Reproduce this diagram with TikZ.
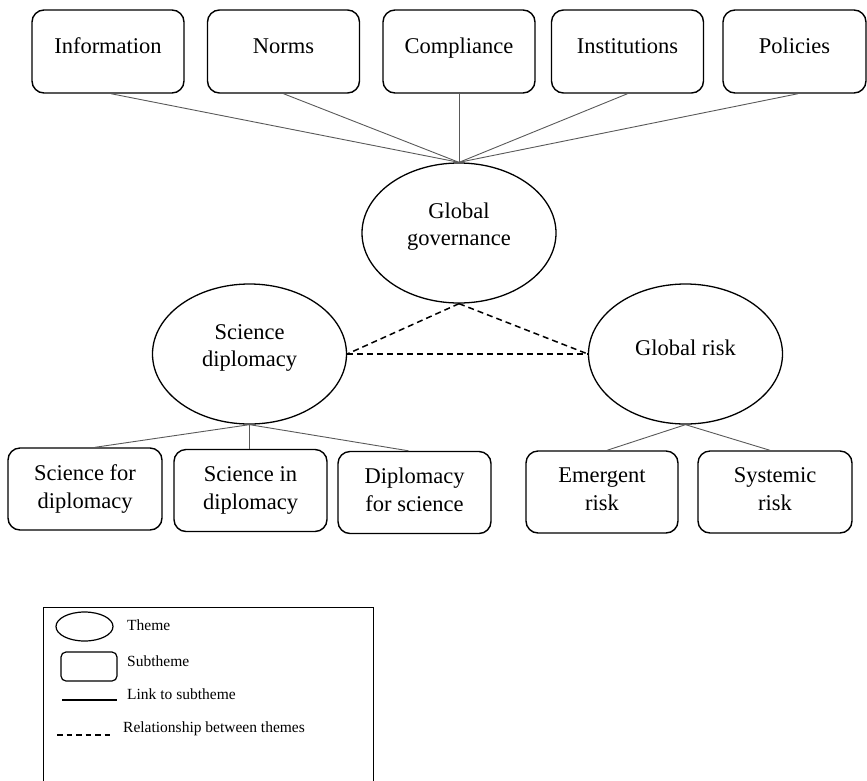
\documentclass[tikz,border=0pt]{standalone}
\usepackage{fontspec}
\setmainfont{Liberation Serif}
\usetikzlibrary{shapes.geometric,calc}
\begin{document}
\begin{tikzpicture}[x=1pt,y=-1pt,
  subbox/.style={draw=black, line width=1.4pt, rounded corners=12pt, align=center, inner sep=0pt, font=\fontsize{22.5}{28}\selectfont},
  topbox/.style={subbox, minimum height=83pt, minimum width=152pt, text height=15pt, text depth=12pt},
  botbox/.style={subbox, minimum height=82pt, minimum width=153pt, text depth=5pt},
  theme/.style={draw=black, ellipse, line width=1.3pt, minimum width=194pt, minimum height=140pt, inner sep=0pt, align=center, font=\fontsize{22.5}{27}\selectfont},
  link/.style={draw=black!65, line width=0.9pt},
  rel/.style={draw=black, line width=1.5pt, dash pattern=on 6pt off 4pt},
  legtext/.style={anchor=west, inner sep=0pt, font=\fontsize{15.5}{18}\selectfont}
]
\useasboundingbox (0,0) rectangle (867,780);
\clip (0,0) rectangle (867,780);

% subthemes (top)
\node[topbox] (info) at (108,51.5) {Information};
\node[topbox] (norms) at (283.5,51.5) {Norms};
\node[topbox] (comp) at (459,51.5) {Compliance};
\node[topbox] (inst) at (627.5,51.5) {Institutions};
\node[topbox, minimum width=143pt] (pol) at (794.5,51.5) {Policies};

% themes
\node[theme, text depth=17pt] (gg) at (459,233) {Global\\governance};
\node[theme, text depth=17pt] (sd) at (249.5,354) {Science\\diplomacy};
\node[theme, text height=15pt, text depth=13pt] (gr) at (685.5,354) {Global risk};

% subthemes (bottom)
\node[botbox, minimum width=154pt] (sfd) at (85,489) {Science for\\diplomacy};
\node[botbox] (sid) at (250.5,490.5) {Science in\\diplomacy};
\node[botbox] (dfs) at (414.5,492.5) {Diplomacy\\for science};
\node[botbox, minimum width=152pt] (er) at (602,492) {Emergent\\risk};
\node[botbox, minimum width=154pt] (sr) at (775,492) {Systemic\\risk};

% links to subthemes
\draw[link] ([xshift=3pt]info.south) -- (gg.north);
\draw[link] (norms.south) -- (gg.north);
\draw[link] (comp.south) -- (gg.north);
\draw[link] (inst.south) -- (gg.north);
\draw[link] ([xshift=3.5pt]pol.south) -- (gg.north);
\draw[link] ([xshift=10pt]sfd.north) -- (sd.south);
\draw[link] (sd.south) -- (sd.south |- sid.north);
\draw[link] ([xshift=-6pt]dfs.north) -- (sd.south);
\draw[link] ([xshift=5pt]er.north) -- (gr.south);
\draw[link] ([xshift=-5pt]sr.north) -- (gr.south);

% relationships between themes
\draw[rel] (gg.south) -- (sd.east);
\draw[rel] (gg.south) -- (gr.west);
\draw[rel] (sd.east) -- (gr.west);

% legend
\draw[line width=0.9pt] (43,800) -- (43,607) -- (373,607) -- (373,800);
\node[draw, ellipse, line width=1.2pt, minimum width=57pt, minimum height=29pt, inner sep=0pt] (legth) at (84.5,626.5) {};
\node[draw, rounded corners=5pt, line width=1.2pt, minimum width=56pt, minimum height=29pt, inner sep=0pt] (legsub) at (89,666.5) {};
\coordinate (lla) at (62,700);
\coordinate (llb) at (117,700);
\draw[line width=2.4pt] (lla) -- (llb);
\coordinate (lda) at (57,735);
\coordinate (ldb) at (112,735);
\draw[line width=1.3pt, dash pattern=on 5.5pt off 4pt] (lda) -- (ldb);
\node[legtext] (t1) at (127,625) {Theme};
\node[legtext] (t2) at (127,661) {Subtheme};
\node[legtext] (t3) at (127,694) {Link to subtheme};
\node[legtext] (t4) at (123,729) {Relationship between themes};
\end{tikzpicture}
\end{document}
